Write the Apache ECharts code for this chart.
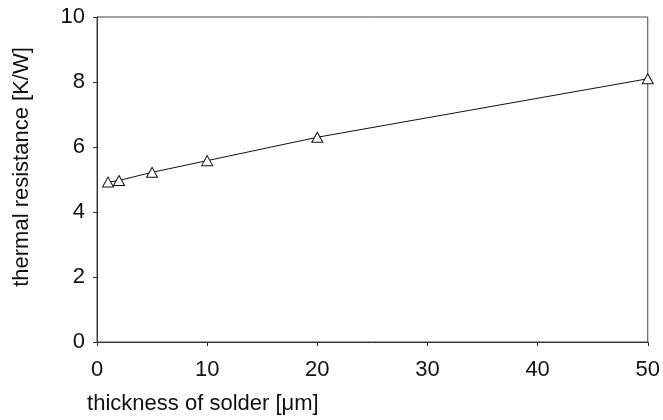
<!DOCTYPE html>
<html><head><meta charset="utf-8">
<script src="https://cdn.jsdelivr.net/npm/echarts@6/dist/echarts.min.js"></script>
<style>html,body{margin:0;padding:0;background:#fff}#c{width:663px;height:420px}</style>
</head><body><div id="c"></div>
<script>
const thickness = [1, 2, 5, 10, 20, 50];
const resistance = [4.92, 4.97, 5.22, 5.58, 6.3, 8.1];
const xTicks = [0, 10, 20, 30, 40, 50];
const yTicks = [0, 2, 4, 6, 8, 10];
const xTitle = 'thickness of solder [μm]';
const yTitle = 'thermal resistance [K/W]';

const chart = echarts.init(document.getElementById('c'), null, {renderer: 'canvas'});
const font = 'Liberation Sans, Arial, sans-serif';
chart.setOption({
  animation: false,
  backgroundColor: '#fff',
  grid: {left: 97, right: 11, top: 17, bottom: 77, show: true, borderColor: '#444', borderWidth: 1},
  xAxis: {
    type: 'value', min: xTicks[0], max: xTicks[xTicks.length - 1], interval: 10,
    name: xTitle, nameLocation: 'middle', nameGap: 51,
    nameTextStyle: {fontFamily: font, fontSize: 22, color: '#111', padding: [0, 339, 0, 0]},
    axisLine: {show: true, lineStyle: {color: '#333', width: 1}},
    axisTick: {show: true, length: 4, lineStyle: {color: '#333'}},
    axisLabel: {fontFamily: font, fontSize: 22, color: '#111', margin: 17},
    splitLine: {show: false}
  },
  yAxis: {
    type: 'value', min: yTicks[0], max: yTicks[yTicks.length - 1], interval: 2,
    name: yTitle, nameLocation: 'middle', nameGap: 64,
    nameTextStyle: {fontFamily: font, fontSize: 22, color: '#111', padding: [0, 0, 0, 25]},
    axisLine: {show: true, lineStyle: {color: '#333', width: 1}},
    axisTick: {show: true, length: 4, lineStyle: {color: '#333'}},
    axisLabel: {fontFamily: font, fontSize: 22, color: '#111', margin: 12},
    splitLine: {show: false}
  },
  series: [{
    type: 'line',
    data: thickness.map((x, i) => [x, resistance[i]]),
    symbol: 'triangle', symbolSize: [11, 10],
    lineStyle: {color: '#111', width: 1},
    itemStyle: {color: '#fff', borderColor: '#111', borderWidth: 1},
    z: 3
  }]
});
</script></body></html>
